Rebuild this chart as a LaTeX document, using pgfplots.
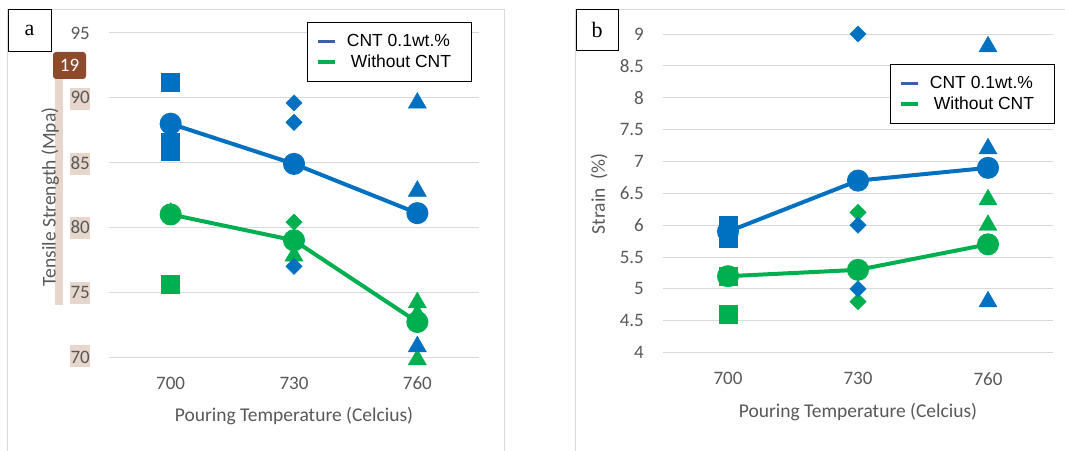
\documentclass[border=0pt]{standalone}
\usepackage{pgfplots}
\pgfplotsset{compat=1.18}
\usepackage{fontspec}
\setmainfont{Carlito}
\newfontfamily\legfont{Liberation Sans}
\newfontfamily\serffont{Liberation Serif}
\definecolor{cblue}{HTML}{0070C0}
\definecolor{cgreen}{HTML}{00B050}
\definecolor{legblue}{HTML}{3D5FA8}
\definecolor{gridc}{HTML}{D9D9D9}
\definecolor{txt}{HTML}{595959}
\definecolor{framec}{HTML}{DADADA}
\definecolor{tanc}{HTML}{E6D6CC}
\definecolor{brownc}{HTML}{8E4B2C}

\pgfplotsset{
  mystyle/.style={
    scale only axis, clip=false,
    xmin=-0.5, xmax=2.5, xtick={0,1,2}, xticklabels={700,730,760},
    axis line style={draw=none}, major tick length=0pt,
    ymajorgrids, grid style={gridc, line width=1pt},
    tick label style={font=\fontsize{19}{22}\selectfont, text=txt, inner sep=0pt},
    /pgf/number format/assume math mode=true,
    xticklabel style={anchor=center, yshift=-26pt},
    yticklabel style={anchor=east, xshift=-19pt},
    legend style={draw=black, line width=0.9pt, fill=white,
      font=\legfont\fontsize{17.5}{20}\selectfont,
      inner xsep=9pt, inner ysep=10pt, row sep=3pt},
    legend cell align=left,
  },
  sq/.style={only marks, mark=square*, mark size=9pt, mark options={draw=none}},
  dia/.style={only marks, mark=square*, mark size=5.8pt, mark options={rotate=45, draw=none}},
  tri/.style={only marks, mark=triangle*, mark size=10.5pt, mark options={draw=none}},
  mean/.style={line width=4pt, mark=*, mark size=9pt, mark options={draw=none}},
}

\begin{document}
\begin{tikzpicture}
\useasboundingbox (0,0) rectangle (1065pt,450pt);
\clip (0,0) rectangle (1065pt,450pt);
\fill[white] (0,0) rectangle (1065pt,450pt);
% chart frames
\draw[framec, line width=1pt] (7pt,-5pt) rectangle (504pt,440pt);
\draw[framec, line width=1pt] (575pt,-5pt) rectangle (1075pt,440pt);
% annotation highlights (panel a)
\fill[tanc] (55pt,371pt) rectangle (63pt,145pt);
\foreach \c in {98.8,163.6,228.4,293.2,356} {
  \fill[tanc] (70pt,{450pt-\c pt-11pt}) rectangle (90pt,{450pt-\c pt+11pt});
}

% ---------------- panel a ----------------
\begin{axis}[mystyle, at={(109pt,93pt)}, anchor=south west,
  width=370pt, height=324pt,
  ymin=70, ymax=95, ytick={70,75,80,85,90,95},
  every axis y label/.style={at={(axis description cs:-0.159,0.494)}, rotate=90, anchor=center, font=\fontsize{19.5}{22}\selectfont, text=txt},
  every axis x label/.style={at={(axis description cs:0.5,-0.182)}, anchor=center, font=\fontsize{19.5}{22}\selectfont, text=txt},
  ylabel={Tensile Strength (Mpa)},
  xlabel={Pouring Temperature (Celcius)},
  legend style={at={(axis description cs:0.535,1.034)}, anchor=north west},
]
% green samples
\addplot[cgreen, sq, forget plot] coordinates {(0,75.6)};
\addplot[cgreen, tri, forget plot] coordinates {(0,81.1)};
\addplot[cgreen, dia, forget plot] coordinates {(1,80.4)};
\addplot[cgreen, tri, forget plot] coordinates {(1,77.8)};
\addplot[cgreen, tri, forget plot] coordinates {(2,74.2) (2,73.3) (2,69.8)};
% blue samples
\addplot[cblue, sq, forget plot] coordinates {(0,91.2) (0,86.6) (0,85.9)};
\addplot[cblue, dia, forget plot] coordinates {(1,89.6) (1,88.1) (1,77.0)};
\addplot[cblue, tri, forget plot] coordinates {(2,89.6) (2,82.8) (2,70.8)};
% means
\addplot[cblue, mean, forget plot] coordinates {(0,88.0) (1,84.9) (2,81.1)};
\addplot[cgreen, mean, forget plot] coordinates {(0,81.0) (1,79.0) (2,72.7)};
\addlegendimage{legend image code/.code={\draw[legblue, line width=3.5pt] (0pt,0pt) -- (17pt,0pt);}}
\addlegendentry{\rule{8pt}{0pt}CNT 0.1wt.\%\rule{9pt}{0pt}}
\addlegendimage{legend image code/.code={\draw[cgreen, line width=3.5pt] (0pt,0pt) -- (17pt,0pt);}}
\addlegendentry{\rule{12pt}{0pt}Without CNT\rule{9pt}{0pt}}
\end{axis}

% ---------------- panel b ----------------
\begin{axis}[mystyle, at={(663pt,97.3pt)}, anchor=south west,
  width=390pt, height=318.7pt,
  ymin=4, ymax=9, ytick={4,4.5,5,5.5,6,6.5,7,7.5,8,8.5,9},
  every axis y label/.style={at={(axis description cs:-0.164,0.498)}, rotate=90, anchor=center, font=\fontsize{19.5}{22}\selectfont, text=txt},
  every axis x label/.style={at={(axis description cs:0.5,-0.186)}, anchor=center, font=\fontsize{19.5}{22}\selectfont, text=txt},
  ylabel={Strain\hspace{0.45em}(\%)},
  xlabel={Pouring Temperature (Celcius)},
  legend style={at={(axis description cs:0.582,0.906)}, anchor=north west},
]
% green samples
\addplot[cgreen, sq, forget plot] coordinates {(0,4.6)};
\addplot[cgreen, dia, forget plot] coordinates {(1,6.2) (1,4.8)};
\addplot[cgreen, tri, forget plot] coordinates {(2,6.4) (2,6.0)};
% blue samples
\addplot[cblue, dia, forget plot] coordinates {(1,9.0) (1,6.0) (1,5.0)};
\addplot[cblue, tri, forget plot] coordinates {(2,8.8) (2,7.2) (2,4.8)};
% means
\addplot[cblue, mean, forget plot] coordinates {(0,5.9) (1,6.7) (2,6.9)};
\addplot[cgreen, mean, forget plot] coordinates {(0,5.2) (1,5.3) (2,5.7)};
% squares on top at 700
\addplot[cblue, sq, forget plot] coordinates {(0,6.0) (0,5.8)};
\addplot[cgreen, sq, forget plot] coordinates {(0,5.2)};
\addlegendimage{legend image code/.code={\draw[legblue, line width=3.5pt] (0pt,0pt) -- (17pt,0pt);}}
\addlegendentry{\rule{8pt}{0pt}CNT 0.1wt.\%\rule{9pt}{0pt}}
\addlegendimage{legend image code/.code={\draw[cgreen, line width=3.5pt] (0pt,0pt) -- (17pt,0pt);}}
\addlegendentry{\rule{12pt}{0pt}Without CNT\rule{9pt}{0pt}}
\end{axis}

% panel tags and annotation badge
\draw[black, line width=1pt, fill=white] (8pt,440pt) rectangle (51pt,398pt);
\node[font=\serffont\fontsize{22}{24}\selectfont] at (29.5pt,420pt) {a};
\draw[black, line width=1pt, fill=white] (576pt,440pt) rectangle (618pt,399pt);
\node[font=\serffont\fontsize{22}{24}\selectfont] at (597pt,420pt) {b};
\fill[brownc, rounded corners=3pt] (53pt,398pt) rectangle (86pt,371pt);
\node[text=white, font=\fontsize{19}{22}\selectfont, inner sep=0pt] at (69.5pt,384.5pt) {19};
\end{tikzpicture}
\end{document}
